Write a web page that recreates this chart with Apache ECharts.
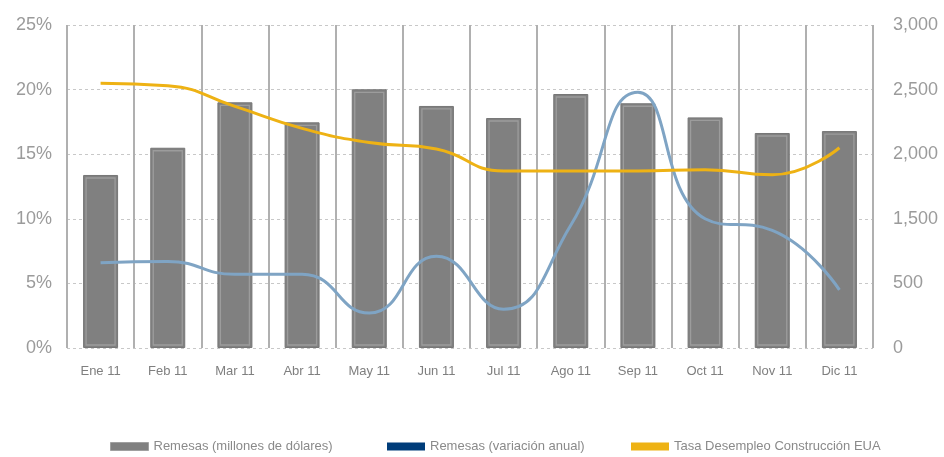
<!DOCTYPE html>
<html>
<head>
<meta charset="utf-8">
<script src="https://cdn.jsdelivr.net/npm/echarts@6/dist/echarts.min.js"></script>
<style>
  html, body { margin: 0; padding: 0; background: #fff; }
  #chart { width: 944px; height: 457px; }
</style>
</head>
<body>
<div id="chart"></div>
<script>
// meses
const months = ['Ene 11', 'Feb 11', 'Mar 11', 'Abr 11', 'May 11', 'Jun 11',
  'Jul 11', 'Ago 11', 'Sep 11', 'Oct 11', 'Nov 11', 'Dic 11'];
// Remesas (millones de dólares) - eje derecho
const remesas = [1607, 1860, 2282, 2096, 2403, 2248, 2136, 2359, 2273, 2142, 1997, 2015];
// Remesas (variación anual, %) - eje izquierdo
const remesasVar = [6.6, 6.7, 5.7, 5.7, 2.7, 7.1, 3.0, 9.5, 19.8, 10.0, 9.1, 4.5];
// Tasa Desempleo Construcción EUA (%) - eje izquierdo
const desempleo = [20.5, 20.3, 18.7, 17.0, 15.9, 15.4, 13.7, 13.7, 13.7, 13.8, 13.4, 15.5];
// etiquetas del eje derecho (tal cual aparecen)
const rightTicks = ['0', '500', '1,500', '2,000', '2,500', '3,000'];

const labelFont = '"Liberation Sans", Arial, sans-serif';
const narrowFont = '"Liberation Sans", Arial, sans-serif';
const barWidth = 35;

const chart = echarts.init(document.getElementById('chart'));

const legendText = { color: '#8a8a8a', fontSize: 13, fontFamily: narrowFont };
function legendFor(name, left, itemStyle) {
  return {
    left: left,
    top: 435,
    itemWidth: 38,
    itemHeight: 8,
    icon: 'rect',
    textStyle: legendText,
    data: [{ name: name, itemStyle: itemStyle }]
  };
}

const option = {
  animation: false,
  grid: { left: 67, right: 71, top: 25, bottom: 109 },
  legend: [
    legendFor('Remesas (millones de dólares)', 105, { color: '#808080', borderColor: '#a0a0a0', borderWidth: 1 }),
    legendFor('Remesas (variación anual)', 382, { color: '#003d7a' }),
    legendFor('Tasa Desempleo Construcción EUA', 626, { color: '#eeb214' })
  ],
  xAxis: {
    type: 'category',
    data: months,
    axisLine: { show: false },
    axisTick: { show: false },
    axisLabel: { color: '#7f7f7f', fontSize: 13, fontFamily: narrowFont, margin: 17 },
    splitLine: { show: true, lineStyle: { color: '#b0b0b0', width: 2 } }
  },
  yAxis: [
    {
      type: 'value',
      min: 0,
      max: 25,
      interval: 5,
      axisLine: { show: false },
      axisTick: { show: false },
      axisLabel: {
        formatter: '{value}%',
        color: '#9b9b9b',
        fontSize: 18,
        fontFamily: labelFont,
        margin: 15,
        padding: [0, 0, 10, 0]
      },
      splitLine: { lineStyle: { color: '#c8c8c8', type: [3, 3] } }
    },
    {
      type: 'value',
      min: 0,
      max: 3000,
      interval: 600,
      axisLine: { show: false },
      axisTick: { show: false },
      axisLabel: {
        formatter: (v, i) => rightTicks[i],
        color: '#9b9b9b',
        fontSize: 18,
        fontFamily: labelFont,
        margin: 20,
        padding: [0, 0, 10, 0]
      },
      splitLine: { show: false }
    }
  ],
  series: [
    {
      name: 'Remesas (millones de dólares)',
      type: 'bar',
      yAxisIndex: 1,
      barWidth: barWidth,
      data: remesas,
      itemStyle: { color: '#808080', borderColor: '#777', borderWidth: 1 }
    },
    {
      // línea interior clara de las barras
      type: 'custom',
      yAxisIndex: 1,
      silent: true,
      z: 3,
      data: remesas.map((v, i) => [i, v]),
      renderItem: function (params, api) {
        const top = api.coord([api.value(0), api.value(1)]);
        const base = api.coord([api.value(0), 0]);
        const inset = 3;
        return {
          type: 'rect',
          shape: {
            x: top[0] - barWidth / 2 + inset,
            y: top[1] + inset,
            width: barWidth - inset * 2,
            height: base[1] - top[1] - inset * 2
          },
          style: { fill: null, stroke: '#9c9c9c', lineWidth: 1.3 }
        };
      }
    },
    {
      name: 'Remesas (variación anual)',
      type: 'line',
      yAxisIndex: 0,
      z: 4,
      data: remesasVar,
      smooth: true,
      showSymbol: false,
      lineStyle: { color: '#7fa4c4', width: 3 },
      itemStyle: { color: '#003d7a' }
    },
    {
      name: 'Tasa Desempleo Construcción EUA',
      type: 'line',
      yAxisIndex: 0,
      z: 4,
      data: desempleo,
      smooth: true,
      showSymbol: false,
      lineStyle: { color: '#eeb214', width: 3 },
      itemStyle: { color: '#eeb214' }
    }
  ]
};

chart.setOption(option);
</script>
</body>
</html>
